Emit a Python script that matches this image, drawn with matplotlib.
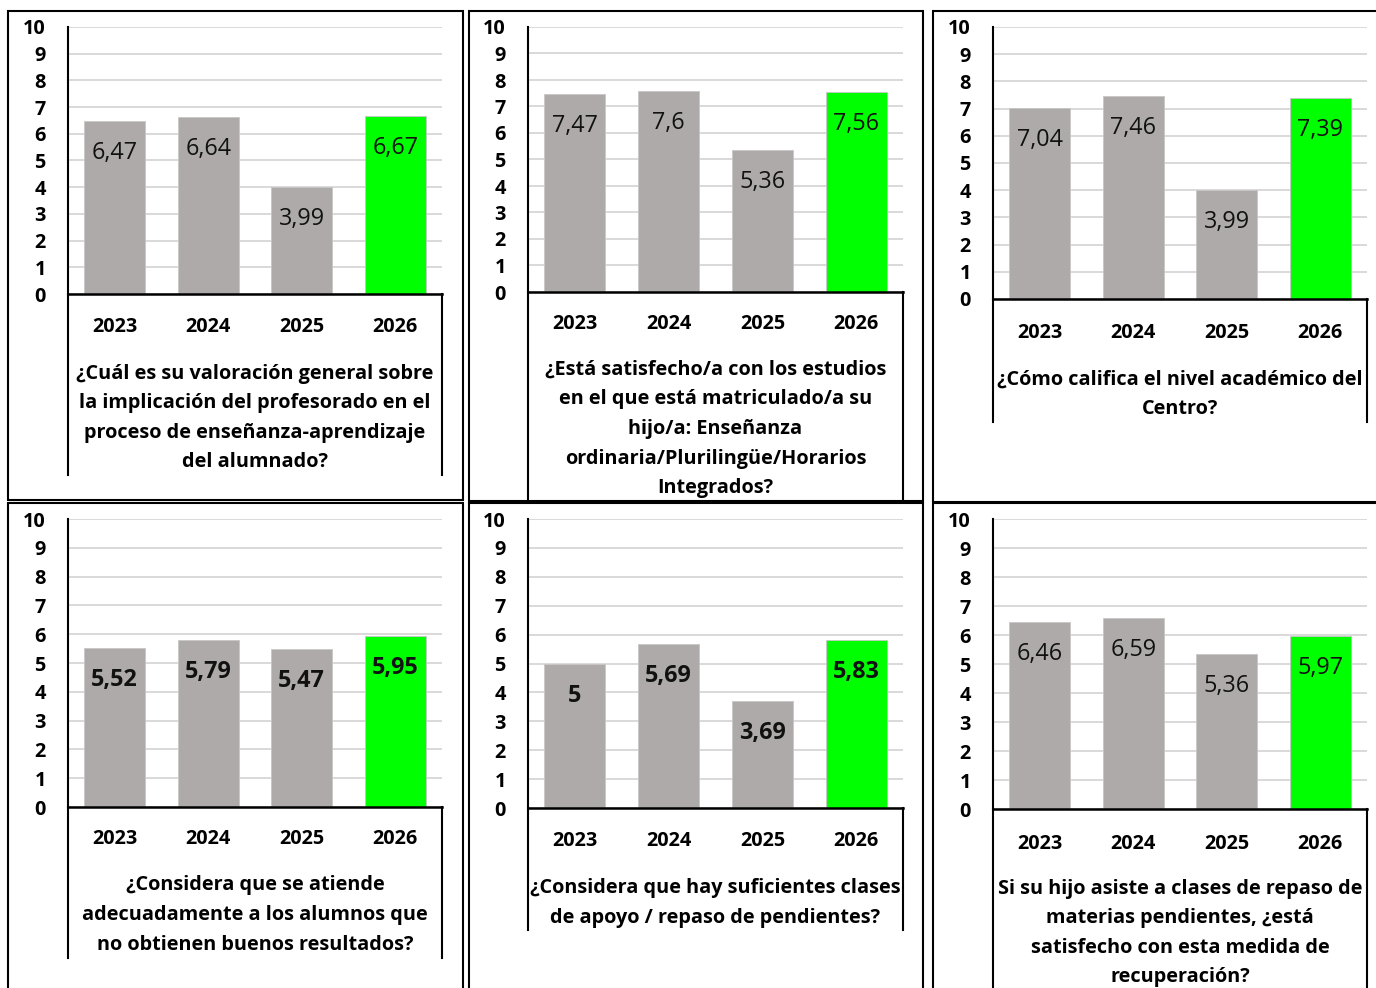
import matplotlib
matplotlib.use("Agg")
import matplotlib.pyplot as plt
from matplotlib.lines import Line2D
from matplotlib.patches import Rectangle

plt.rcParams["font.family"] = ["Open Sans", "DejaVu Sans"]

# ---------------------------------------------------------------
# data
# ---------------------------------------------------------------
years = ["2023", "2024", "2025", "2026"]

q_profesorado = [6.47, 6.64, 3.99, 6.67]
q_estudios = [7.47, 7.60, 5.36, 7.56]
q_nivel = [7.04, 7.46, 3.99, 7.39]
q_atencion = [5.52, 5.79, 5.47, 5.95]
q_apoyo = [5.00, 5.69, 3.69, 5.83]
q_repaso = [6.46, 6.59, 5.36, 5.97]

questions = [
    "¿Cuál es su valoración general sobre\nla implicación del profesorado en el\n"
    "proceso de enseñanza-aprendizaje\ndel alumnado?",
    "¿Está satisfecho/a con los estudios\nen el que está matriculado/a su\n"
    "hijo/a: Enseñanza\nordinaria/Plurilingüe/Horarios\nIntegrados?",
    "¿Cómo califica el nivel académico del\nCentro?",
    "¿Considera que se atiende\nadecuadamente a los alumnos que\n"
    "no obtienen buenos resultados?",
    "¿Considera que hay suficientes clases\nde apoyo / repaso de pendientes?",
    "Si su hijo asiste a clases de repaso de\nmaterias pendientes, ¿está\n"
    "satisfecho con esta medida de\nrecuperación?",
]
series = [q_profesorado, q_estudios, q_nivel, q_atencion, q_apoyo, q_repaso]
bold_values = [False, False, False, True, True, False]

# ---------------------------------------------------------------
# layout (pixels)
# ---------------------------------------------------------------
W, H = 1376, 988
GREY = "#AEAAAA"
GREEN = "#00FF00"

# box (x0, y0, x1, y1), plot (left, top, right, zero), cat-box bottom,
# year label centre y, question centre y
panels = [
    ((8, 11, 463, 500), (68, 27, 442, 294), 475, 325, 418),
    ((469, 11, 923, 501), (528, 27, 903, 292), 501, 322, 429),
    ((933, 11, 1390, 502), (993, 27, 1367, 299), 422, 331, 394),
    ((8, 503, 463, 1000), (68, 519, 442, 807), 958, 837, 915),
    ((469, 503, 923, 1000), (528, 519, 903, 808), 930, 839, 903),
    ((933, 503, 1390, 1000), (993, 519, 1367, 809), 988, 842, 933),
]


def fx(x):
    return x / W


def fy(y):
    return 1 - y / H


fig = plt.figure(figsize=(W / 100, H / 100), dpi=100)

for k, (box, plot, cat_bottom, year_y, q_y) in enumerate(panels):
    x0, y0, x1, y1 = box
    fig.add_artist(Rectangle((fx(x0), fy(y1)), fx(x1) - fx(x0), fy(y0) - fy(y1),
                             transform=fig.transFigure, fill=False,
                             edgecolor="black", lw=1.5, clip_on=False))

    left, top, right, zero = plot
    ax = fig.add_axes([fx(left), fy(zero), fx(right) - fx(left), fy(top) - fy(zero)])

    vals = series[k]
    colors = [GREY] * (len(vals) - 1) + [GREEN]
    xs = range(len(vals))
    ax.bar(xs, vals, width=0.65, color=colors, edgecolor="#C9C6C6",
           linewidth=0.6, zorder=2)

    ax.set_xlim(-0.5, len(vals) - 0.5)
    ax.set_ylim(0, 10)
    ax.set_yticks(range(11))
    ax.set_axisbelow(True)
    ax.yaxis.grid(True, color="#D9D9D9", lw=1.4)

    for s in ["top", "right"]:
        ax.spines[s].set_visible(False)
    ax.spines["left"].set_linewidth(1.5)
    ax.spines["bottom"].set_linewidth(1.8)

    ax.tick_params(axis="y", length=0, pad=16, labelsize=14.3)
    for lab in ax.get_yticklabels():
        lab.set_fontweight("bold")

    ax.set_xticks(list(xs))
    ax.set_xticklabels(years, fontsize=14.3, fontweight="bold")
    ax.tick_params(axis="x", length=0, pad=(year_y - zero - 8) * 0.72)

    for i, v in enumerate(vals):
        ax.annotate(f"{v:g}".replace(".", ","), xy=(i, v), xytext=(0, -38),
                    textcoords="offset pixels", ha="center", va="baseline",
                    fontsize=16.8, fontweight="bold" if bold_values[k] else "normal",
                    color="#111111", zorder=3)

    # category box side lines
    for xx in (left, right):
        fig.add_artist(Line2D([fx(xx), fx(xx)], [fy(zero), fy(cat_bottom)],
                              transform=fig.transFigure, color="black", lw=1.5))

    fig.text(fx((left + right) / 2), fy(q_y), questions[k], ha="center",
             va="center", multialignment="center", fontsize=14.3,
             fontweight="bold", linespacing=1.64)

fig.savefig("out.png", dpi=100)
